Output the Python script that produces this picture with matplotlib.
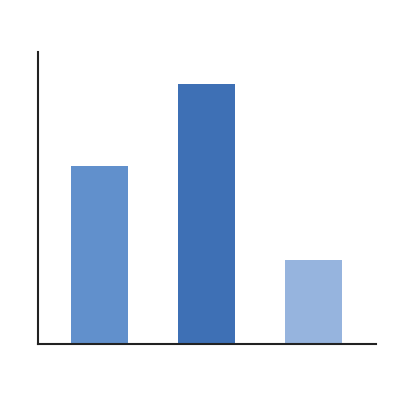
import matplotlib
matplotlib.use('Agg')
import matplotlib.pyplot as plt

categories = ['A', 'B', 'C']
values = [61, 89, 29]
colors = ['#6190cc', '#3e70b5', '#96b4de']

fig = plt.figure(figsize=(4, 4), dpi=100)
ax = fig.add_axes([0.095, 0.139, 0.845, 0.731])

x = range(len(categories))
ax.bar(x, values, width=0.53, color=colors)

ax.set_xlim(-0.578, 2.584)
ax.set_ylim(0, 100)
ax.set_xticks([])
ax.set_yticks([])
for side in ['top', 'right']:
    ax.spines[side].set_visible(False)
for side in ['left', 'bottom']:
    ax.spines[side].set_color('#222222')
    ax.spines[side].set_linewidth(1.5)

fig.savefig('out.png', dpi=100)
